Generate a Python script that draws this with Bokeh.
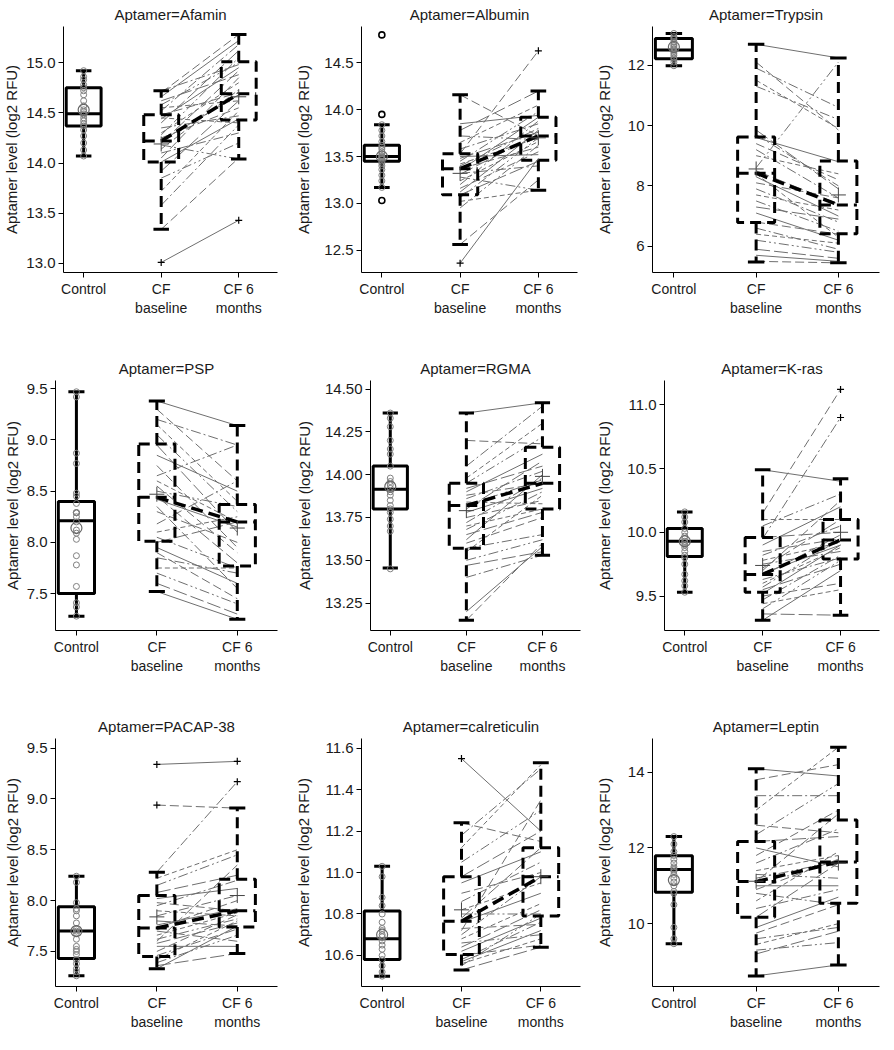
from bokeh.plotting import figure
from bokeh.layouts import column, row
from bokeh.models import FixedTicker, PrintfTickFormatter, Range1d, ColumnDataSource
from bokeh.embed import file_html
from bokeh.resources import INLINE

group_labels = ["Control", "CF\nbaseline", "CF 6\nmonths"]

# ---------------- Afamin ----------------
afamin_ctrl = [14.92, 14.86, 14.83, 14.78, 14.75, 14.72, 14.68, 14.62, 14.57, 14.53, 14.51,
               14.49, 14.48, 14.45, 14.42, 14.39, 14.37, 14.33, 14.27, 14.20, 14.13, 14.07]
afamin_ctrl_mean = [14.53]
afamin_ctrl_out = []
afamin_box_ctrl = [14.07, 14.37, 14.49, 14.75, 14.92]
afamin_box_base = [13.34, 14.01, 14.22, 14.48, 14.72]
afamin_box_6m = [14.04, 14.43, 14.69, 15.01, 15.28]
afamin_base = [13.01, 13.34, 13.58, 13.72, 13.85, 13.92, 14.01, 14.05, 14.10, 14.14, 14.18, 14.20, 14.22, 14.25,
               14.28, 14.30, 14.35, 14.40, 14.44, 14.48, 14.52, 14.55, 14.58, 14.62, 14.66, 14.70, 14.72, 14.45]
afamin_6m = [13.43, 14.05, 14.38, 14.52, 14.20, 14.62, 14.44, 14.85, 14.30, 14.73, 14.04, 14.92, 14.68, 14.55,
             15.05, 14.80, 14.47, 15.12, 14.95, 14.70, 15.18, 14.62, 15.00, 14.88, 15.22, 15.28, 14.98, 14.40]
afamin_out_base = [13.01]
afamin_out_6m = [13.43]
afamin_means = [14.19, 14.66]
afamin_yrange = [12.91, 15.36]
afamin_ticks = [13.0, 13.5, 14.0, 14.5, 15.0]

# ---------------- Albumin ----------------
albumin_ctrl = [13.84, 13.78, 13.72, 13.66, 13.62, 13.60, 13.58, 13.55, 13.53, 13.51, 13.50,
                13.49, 13.48, 13.47, 13.45, 13.43, 13.40, 13.36, 13.30, 13.24, 13.17]
albumin_ctrl_mean = [13.50]
albumin_ctrl_out = [14.80, 13.95, 13.03]
albumin_box_ctrl = [13.17, 13.45, 13.50, 13.62, 13.84]
albumin_box_base = [12.56, 13.09, 13.37, 13.53, 14.16]
albumin_box_6m = [13.14, 13.46, 13.72, 13.92, 14.20]
albumin_base = [12.36, 12.56, 12.95, 13.02, 13.06, 13.09, 13.12, 13.16, 13.20, 13.24, 13.28, 13.31, 13.35, 13.37,
                13.40, 13.42, 13.45, 13.48, 13.50, 13.53, 13.58, 13.65, 13.72, 13.78, 13.85, 14.16, 13.32]
albumin_6m = [13.48, 13.25, 13.62, 13.14, 13.70, 13.45, 13.78, 13.55, 13.88, 13.66, 13.14, 13.74, 13.92, 13.60,
              13.80, 13.70, 13.98, 13.76, 13.52, 14.63, 13.85, 14.05, 13.68, 14.20, 13.94, 13.72, 13.40]
albumin_out_base = [12.36]
albumin_out_6m = [14.63]
albumin_means = [13.32, 13.70]
albumin_yrange = [12.26, 14.89]
albumin_ticks = [12.5, 13.0, 13.5, 14.0, 14.5]

# ---------------- Trypsin ----------------
trypsin_ctrl = [13.05, 12.95, 12.90, 12.85, 12.78, 12.70, 12.65, 12.60, 12.55, 12.50, 12.46,
                12.40, 12.33, 12.25, 12.20, 12.10, 11.98]
trypsin_ctrl_mean = [12.60]
trypsin_ctrl_out = []
trypsin_box_ctrl = [11.98, 12.21, 12.50, 12.88, 13.05]
trypsin_box_base = [5.48, 6.79, 8.42, 9.62, 12.69]
trypsin_box_6m = [5.45, 6.41, 7.37, 8.82, 12.24]
trypsin_base = [12.69, 12.10, 11.90, 11.50, 11.30, 9.85, 9.60, 9.40, 9.20, 9.00, 8.60, 8.50, 8.30, 8.10,
                7.90, 7.70, 7.50, 7.30, 7.10, 6.80, 6.60, 6.40, 6.20, 5.90, 5.70, 5.50, 9.70, 8.40]
trypsin_6m = [12.24, 9.85, 10.60, 9.90, 10.20, 7.90, 8.80, 8.20, 7.60, 8.40, 12.10, 7.40, 7.00, 7.60,
              6.80, 7.20, 6.50, 6.90, 6.20, 6.40, 5.90, 6.10, 5.80, 5.60, 5.50, 5.45, 8.00, 6.30]
trypsin_out_base = []
trypsin_out_6m = []
trypsin_means = [8.56, 7.70]
trypsin_yrange = [5.13, 13.28]
trypsin_ticks = [6, 8, 10, 12]

# ---------------- PSP ----------------
psp_ctrl = [9.47, 9.42, 8.87, 8.77, 8.48, 8.45, 8.38, 8.29, 8.29, 8.29, 8.29, 8.25, 8.20, 8.12,
            8.09, 8.03, 7.87, 7.78, 7.57, 7.41, 7.37, 7.28]
psp_ctrl_mean = [8.14]
psp_ctrl_out = []
psp_box_ctrl = [7.28, 7.50, 8.21, 8.40, 9.47]
psp_box_base = [7.52, 8.01, 8.44, 8.96, 9.38]
psp_box_6m = [7.25, 7.77, 8.20, 8.37, 9.14]
psp_base = [9.38, 9.30, 9.20, 9.15, 9.05, 8.95, 8.85, 8.75, 8.65, 8.60, 8.50, 8.45, 8.42, 8.30,
            8.18, 8.10, 8.05, 8.00, 7.95, 7.90, 7.85, 7.75, 7.70, 7.60, 7.52, 8.55, 8.35]
psp_6m = [9.14, 8.60, 8.95, 8.40, 8.30, 8.10, 8.50, 7.95, 8.95, 8.20, 8.35, 7.80, 8.15, 8.00,
          8.60, 8.25, 7.75, 8.20, 7.60, 7.45, 7.70, 7.75, 7.40, 7.30, 7.25, 7.90, 7.55]
psp_out_base = []
psp_out_6m = []
psp_means = [8.47, 8.14]
psp_yrange = [7.14, 9.58]
psp_ticks = [7.5, 8.0, 8.5, 9.0, 9.5]

# ---------------- RGMA ----------------
rgma_ctrl = [14.36, 14.33, 14.28, 14.20, 14.15, 14.12, 14.05, 13.98, 13.96, 13.94, 13.92,
             13.90, 13.88, 13.85, 13.82, 13.80, 13.78, 13.74, 13.70, 13.67, 13.45]
rgma_ctrl_mean = [13.93]
rgma_ctrl_out = []
rgma_box_ctrl = [13.455, 13.80, 13.915, 14.05, 14.36]
rgma_box_base = [13.15, 13.57, 13.82, 13.95, 14.36]
rgma_box_6m = [13.53, 13.80, 13.95, 14.16, 14.42]
rgma_base = [14.36, 14.20, 14.05, 13.98, 13.95, 13.92, 13.90, 13.88, 13.86, 13.84, 13.82, 13.80, 13.78, 13.75,
             13.72, 13.70, 13.68, 13.65, 13.62, 13.60, 13.57, 13.55, 13.50, 13.47, 13.20, 13.15, 13.40]
rgma_6m = [14.42, 14.18, 14.40, 14.30, 14.22, 14.05, 14.12, 13.95, 14.02, 13.83, 13.97, 14.08, 13.92, 13.85,
           13.98, 13.80, 13.90, 13.78, 14.00, 13.75, 13.65, 13.88, 13.62, 13.55, 13.58, 13.60, 13.53]
rgma_out_base = []
rgma_out_6m = []
rgma_means = [13.79, 13.99]
rgma_yrange = [13.09, 14.55]
rgma_ticks = [13.25, 13.50, 13.75, 14.00, 14.25, 14.50]

# ---------------- K-ras ----------------
kras_ctrl = [10.16, 10.12, 10.08, 10.03, 10.00, 9.97, 9.95, 9.93, 9.92, 9.90, 9.88, 9.85,
             9.82, 9.80, 9.75, 9.67, 9.62, 9.58, 9.53]
kras_ctrl_mean = [9.93]
kras_ctrl_out = []
kras_box_ctrl = [9.53, 9.81, 9.93, 10.03, 10.16]
kras_box_base = [9.31, 9.53, 9.67, 9.96, 10.49]
kras_box_6m = [9.35, 9.79, 9.94, 10.10, 10.42]
kras_base = [10.49, 10.15, 9.95, 10.10, 10.05, 9.96, 9.90, 9.85, 9.82, 9.78, 9.75, 9.72, 9.68, 9.66,
             9.63, 9.60, 9.57, 9.55, 9.52, 9.50, 9.47, 9.44, 9.40, 9.36, 9.31, 9.70]
kras_6m = [10.40, 11.12, 10.90, 10.10, 10.30, 10.00, 10.20, 9.95, 10.05, 9.92, 9.85, 10.10, 9.90, 9.98,
           9.80, 9.88, 9.95, 9.75, 9.90, 9.60, 9.82, 9.55, 9.78, 9.35, 9.70, 10.25]
kras_out_base = []
kras_out_6m = [11.12, 10.90]
kras_means = [9.74, 10.00]
kras_yrange = [9.23, 11.19]
kras_ticks = [9.5, 10.0, 10.5, 11.0]

# ---------------- PACAP-38 ----------------
pacap_ctrl = [8.24, 8.18, 7.98, 7.92, 7.90, 7.85, 7.78, 7.72, 7.70, 7.68, 7.62, 7.55, 7.52,
              7.50, 7.47, 7.42, 7.38, 7.33, 7.30, 7.26]
pacap_ctrl_mean = [7.70]
pacap_ctrl_out = []
pacap_box_ctrl = [7.26, 7.43, 7.70, 7.94, 8.24]
pacap_box_base = [7.33, 7.45, 7.73, 8.05, 8.28]
pacap_box_6m = [7.48, 7.74, 7.90, 8.21, 8.91]
pacap_base = [9.34, 8.94, 8.28, 8.22, 8.15, 8.08, 8.02, 7.98, 7.95, 7.90, 7.85, 7.80, 7.76, 7.73,
              7.70, 7.66, 7.62, 7.58, 7.55, 7.50, 7.46, 7.42, 7.39, 7.36, 7.33, 7.60]
pacap_6m = [9.37, 8.91, 9.17, 8.50, 8.45, 8.25, 8.12, 7.90, 8.20, 7.85, 8.05, 7.75, 7.92, 8.00,
            7.60, 7.88, 7.82, 7.78, 7.55, 7.86, 7.72, 7.80, 7.66, 7.48, 7.75, 8.35]
pacap_out_base = [9.34, 8.94]
pacap_out_6m = [9.37, 9.17]
pacap_means = [7.84, 8.05]
pacap_yrange = [7.155, 9.595]
pacap_ticks = [7.5, 8.0, 8.5, 9.0, 9.5]

# ---------------- calreticulin ----------------
calr_ctrl = [11.03, 10.98, 10.88, 10.84, 10.80, 10.76, 10.73, 10.72, 10.70, 10.69, 10.67, 10.65,
             10.63, 10.60, 10.58, 10.55, 10.52, 10.50]
calr_ctrl_mean = [10.70]
calr_ctrl_out = []
calr_box_ctrl = [10.50, 10.58, 10.68, 10.815, 11.03]
calr_box_base = [10.53, 10.605, 10.765, 10.98, 11.24]
calr_box_6m = [10.64, 10.79, 10.98, 11.12, 11.53]
calr_base = [11.55, 11.24, 11.18, 11.12, 11.05, 10.98, 10.95, 10.90, 10.86, 10.82, 10.80, 10.78, 10.76, 10.73,
             10.70, 10.68, 10.66, 10.64, 10.62, 10.60, 10.58, 10.56, 10.55, 10.53, 10.57, 10.72]
calr_6m = [11.20, 11.15, 11.50, 11.52, 11.30, 11.20, 11.10, 11.00, 11.05, 10.95, 10.80, 11.12, 10.90, 10.75,
           10.98, 10.85, 10.70, 10.82, 10.78, 10.65, 10.76, 10.68, 10.80, 10.64, 10.72, 11.35]
calr_out_base = [11.55]
calr_out_6m = []
calr_means = [10.82, 10.98]
calr_yrange = [10.45, 11.647]
calr_ticks = [10.6, 10.8, 11.0, 11.2, 11.4, 11.6]

# ---------------- Leptin ----------------
leptin_ctrl = [12.30, 12.10, 11.90, 11.80, 11.70, 11.60, 11.50, 11.45, 11.42, 11.38, 11.30, 11.20,
               11.10, 11.00, 10.85, 10.80, 10.50, 9.90, 9.60, 9.47]
leptin_ctrl_mean = [11.15]
leptin_ctrl_out = []
leptin_box_ctrl = [9.47, 10.83, 11.43, 11.79, 12.30]
leptin_box_base = [8.62, 10.17, 11.11, 12.17, 14.09]
leptin_box_6m = [8.91, 10.54, 11.63, 12.74, 14.66]
leptin_base = [14.09, 13.80, 13.38, 13.00, 12.35, 12.17, 12.00, 11.80, 11.60, 11.40, 11.20, 11.11, 11.00, 10.90,
               10.80, 10.60, 10.40, 10.17, 9.90, 9.75, 9.60, 9.45, 9.30, 9.20, 8.62, 12.60, 11.30]
leptin_6m = [13.90, 14.20, 13.38, 14.66, 13.70, 12.30, 11.50, 13.00, 12.50, 11.80, 11.65, 12.90, 11.00, 11.70,
             10.50, 11.90, 10.90, 11.60, 10.70, 10.50, 9.90, 10.00, 9.50, 9.80, 8.91, 12.40, 11.20]
leptin_out_base = []
leptin_out_6m = []
leptin_means = [11.12, 11.60]
leptin_yrange = [8.34, 14.89]
leptin_ticks = [10, 12, 14]

panel_titles = ["Afamin", "Albumin", "Trypsin", "PSP", "RGMA", "K-ras", "PACAP-38", "calreticulin", "Leptin"]
panel_data = [
    (afamin_ctrl, afamin_ctrl_mean, afamin_ctrl_out, afamin_box_ctrl, afamin_box_base, afamin_box_6m,
     afamin_base, afamin_6m, afamin_out_base, afamin_out_6m, afamin_means, afamin_yrange, afamin_ticks, "%.1f"),
    (albumin_ctrl, albumin_ctrl_mean, albumin_ctrl_out, albumin_box_ctrl, albumin_box_base, albumin_box_6m,
     albumin_base, albumin_6m, albumin_out_base, albumin_out_6m, albumin_means, albumin_yrange, albumin_ticks, "%.1f"),
    (trypsin_ctrl, trypsin_ctrl_mean, trypsin_ctrl_out, trypsin_box_ctrl, trypsin_box_base, trypsin_box_6m,
     trypsin_base, trypsin_6m, trypsin_out_base, trypsin_out_6m, trypsin_means, trypsin_yrange, trypsin_ticks, "%d"),
    (psp_ctrl, psp_ctrl_mean, psp_ctrl_out, psp_box_ctrl, psp_box_base, psp_box_6m,
     psp_base, psp_6m, psp_out_base, psp_out_6m, psp_means, psp_yrange, psp_ticks, "%.1f"),
    (rgma_ctrl, rgma_ctrl_mean, rgma_ctrl_out, rgma_box_ctrl, rgma_box_base, rgma_box_6m,
     rgma_base, rgma_6m, rgma_out_base, rgma_out_6m, rgma_means, rgma_yrange, rgma_ticks, "%.2f"),
    (kras_ctrl, kras_ctrl_mean, kras_ctrl_out, kras_box_ctrl, kras_box_base, kras_box_6m,
     kras_base, kras_6m, kras_out_base, kras_out_6m, kras_means, kras_yrange, kras_ticks, "%.1f"),
    (pacap_ctrl, pacap_ctrl_mean, pacap_ctrl_out, pacap_box_ctrl, pacap_box_base, pacap_box_6m,
     pacap_base, pacap_6m, pacap_out_base, pacap_out_6m, pacap_means, pacap_yrange, pacap_ticks, "%.1f"),
    (calr_ctrl, calr_ctrl_mean, calr_ctrl_out, calr_box_ctrl, calr_box_base, calr_box_6m,
     calr_base, calr_6m, calr_out_base, calr_out_6m, calr_means, calr_yrange, calr_ticks, "%.1f"),
    (leptin_ctrl, leptin_ctrl_mean, leptin_ctrl_out, leptin_box_ctrl, leptin_box_base, leptin_box_6m,
     leptin_base, leptin_6m, leptin_out_base, leptin_out_6m, leptin_means, leptin_yrange, leptin_ticks, "%d"),
]

# ---------------- layout / style ----------------
FONT = "Liberation Sans"
TXT = "#1a1a1a"
col_w = [292, 300, 290]
row_h = [328, 348, 356]
top_b = [24, 52, 62]
bot_b = [56, 44, 46]
left_b = [[58, 68, 60], [50, 76, 72], [50, 68, 60]]
right_b = [[15, 15, 3], [15, 12, 3], [15, 12, 3]]
label_margin = [2, 4, 6]
pair_dashes = ["solid", "9 4", "10 3 2 3", "5 3", "10 3 2 3 2 3", "14 4"]
BOX_DASH = "11 6"


def tick_label_width(fmt, ticks):
    w = 0
    for t in ticks:
        s = fmt % t
        w = max(w, sum(8.34 if c.isdigit() else 4.17 for c in s))
    return w


def draw_box(p, x, stats, dash, hw=0.225, cw=0.1):
    lo, q1, med, q3, hi = stats
    p.quad(left=[x - hw], right=[x + hw], bottom=[q1], top=[q3], fill_color=None,
           line_color="black", line_width=3, line_dash=dash)
    p.segment(x0=[x - hw, x, x], y0=[med, q3, q1], x1=[x + hw, x, x], y1=[med, hi, lo],
              line_color="black", line_width=3, line_dash=dash)
    p.segment(x0=[x - cw, x - cw], y0=[hi, lo], x1=[x + cw, x + cw], y1=[hi, lo],
              line_color="black", line_width=3)


figs = []
for idx, (title, data) in enumerate(zip(panel_titles, panel_data)):
    r, c = divmod(idx, 3)
    (ctrl, ctrl_mean, ctrl_out, box_c, box_b, box_6, base, m6, out_b, out_6, means,
     yr, ticks, fmt) = data
    lb = left_b[r][c]
    lw = tick_label_width(fmt, ticks)
    stand = max(3, int(lb - 5 - 3 - lw - 17 - label_margin[c]))
    p = figure(width=col_w[c], height=row_h[r], output_backend="svg", toolbar_location=None,
               x_range=Range1d(0.74, 3.5), y_range=Range1d(yr[0], yr[1]),
               min_border_left=lb, min_border_right=right_b[r][c],
               min_border_top=top_b[r], min_border_bottom=bot_b[r],
               title="Aptamer=" + title)
    p.outline_line_color = None
    p.grid.visible = False
    p.background_fill_color = "white"
    p.border_fill_color = "white"
    p.title.align = "center"
    p.title.text_font = FONT
    p.title.text_font_size = "15px"
    p.title.text_font_style = "normal"
    p.title.text_color = TXT
    p.title.standoff = 7

    # paired CF lines
    for k, dash in enumerate(pair_dashes):
        yb = base[k::len(pair_dashes)]
        y6 = m6[k::len(pair_dashes)]
        src = ColumnDataSource(dict(y0=yb, y1=y6, x0=[2] * len(yb), x1=[3] * len(yb)))
        p.segment(x0="x0", y0="y0", x1="x1", y1="y1", source=src, line_color="#6f6f6f",
                  line_width=1, line_dash=dash)

    # boxes
    draw_box(p, 1, box_c, "solid")
    draw_box(p, 2, box_b, BOX_DASH)
    draw_box(p, 3, box_6, BOX_DASH)
    # median connection line
    p.line(x=[2, 3], y=[box_b[2], box_6[2]], line_color="black", line_width=3.5, line_dash="12 6")

    # control points
    p.scatter(x=[1] * len(ctrl), y=ctrl, marker="circle", size=6, fill_color=None,
              line_color="#808080", line_width=1)
    p.scatter(x=[1] * len(ctrl_mean), y=ctrl_mean, marker="circle", size=11, fill_color=None,
              line_color="#666666", line_width=1.2)
    if ctrl_out:
        p.scatter(x=[1] * len(ctrl_out), y=ctrl_out, marker="circle", size=6, fill_color=None,
                  line_color="black", line_width=1.6)
    # CF outliers and means
    if out_b:
        p.scatter(x=[2] * len(out_b), y=out_b, marker="cross", size=7, line_color="black", line_width=1.2)
    if out_6:
        p.scatter(x=[3] * len(out_6), y=out_6, marker="cross", size=7, line_color="black", line_width=1.2)
    p.scatter(x=[2, 3], y=means, marker="cross", size=15, line_color="#444444", line_width=1)

    # axes
    p.xaxis.ticker = FixedTicker(ticks=[1, 2, 3])
    p.xaxis.major_label_overrides = {1: group_labels[0], 2: group_labels[1], 3: group_labels[2]}
    p.yaxis.ticker = FixedTicker(ticks=ticks)
    p.yaxis.formatter = PrintfTickFormatter(format=fmt)
    p.yaxis.axis_label = "Aptamer level (log2 RFU)"
    p.yaxis.axis_label_standoff = stand
    for ax in (p.xaxis[0], p.yaxis[0]):
        ax.axis_line_color = "black"
        ax.axis_line_width = 1
        ax.major_tick_line_color = "black"
        ax.major_tick_out = 5
        ax.major_tick_in = 0
        ax.minor_tick_line_color = None
        ax.major_label_text_font = FONT
        ax.major_label_text_color = TXT
        ax.major_label_standoff = 3
        ax.axis_label_text_font = FONT
        ax.axis_label_text_font_size = "15px"
        ax.axis_label_text_font_style = "normal"
        ax.axis_label_text_color = TXT
    p.yaxis.major_label_text_font_size = "15px"
    p.xaxis.major_label_text_font_size = "14px"
    figs.append(p)

layout = column(row(*figs[0:3]), row(*figs[3:6]), row(*figs[6:9]))
open("out.html", "w").write(file_html(layout, INLINE))
